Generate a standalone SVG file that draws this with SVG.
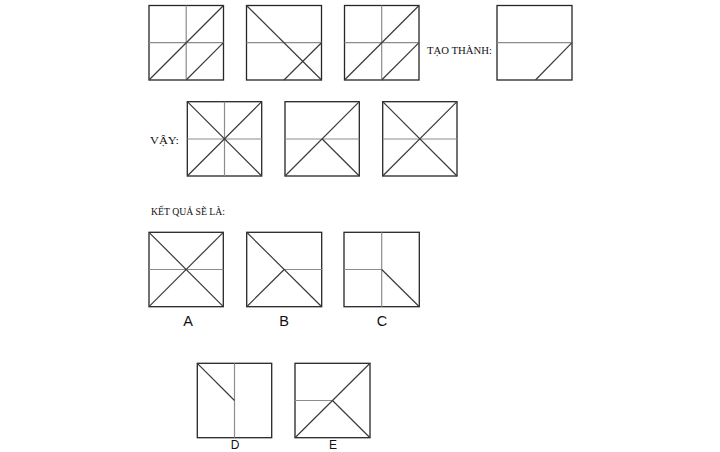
<svg xmlns="http://www.w3.org/2000/svg" width="720" height="452" viewBox="0 0 720 452">
<style>
.frame{fill:none;stroke:#262626;stroke-width:1.3}
.mid{fill:none;stroke:#8c8c8c;stroke-width:1.2}
.diag{fill:none;stroke:#3a3a3a;stroke-width:1.2}
.cap{font-family:"Liberation Serif","DejaVu Serif",serif;font-size:10.5px;fill:#111}
.lab{font-family:"Liberation Sans",Arial,sans-serif;font-size:14.5px;fill:#111;text-anchor:middle}
.lab2{font-family:"Liberation Sans",Arial,sans-serif;font-size:12px;fill:#111;text-anchor:middle}
</style>
<rect x="0" y="0" width="720" height="452" fill="#ffffff"/>
<!-- Top row -->
<g id="top1">
<rect class="frame" x="149" y="5.5" width="74.5" height="74.5"/>
<line class="mid" x1="186.2" y1="5.5" x2="186.2" y2="80"/>
<line class="mid" x1="149" y1="42.7" x2="223.5" y2="42.7"/>
<line class="diag" x1="149" y1="80" x2="223.5" y2="5.5"/>
<line class="diag" x1="186.2" y1="80" x2="223.5" y2="42.7"/>
</g>
<g id="top2">
<rect class="frame" x="246.5" y="5.5" width="75" height="74.5"/>
<line class="mid" x1="246.5" y1="42.7" x2="321.5" y2="42.7"/>
<line class="diag" x1="246.5" y1="5.5" x2="321.5" y2="80"/>
<line class="diag" x1="284" y1="80" x2="321.5" y2="42.7"/>
</g>
<g id="top3">
<rect class="frame" x="344.5" y="5.5" width="74.5" height="74.5"/>
<line class="mid" x1="381.7" y1="5.5" x2="381.7" y2="80"/>
<line class="mid" x1="344.5" y1="42.7" x2="419" y2="42.7"/>
<line class="diag" x1="344.5" y1="80" x2="419" y2="5.5"/>
<line class="diag" x1="381.7" y1="80" x2="419" y2="42.7"/>
</g>
<text class="cap" x="427" y="53.5" textLength="65" lengthAdjust="spacingAndGlyphs">TẠO THÀNH:</text>
<g id="top4">
<rect class="frame" x="497" y="5.5" width="75" height="74.5"/>
<line class="mid" x1="497" y1="42.7" x2="572" y2="42.7"/>
<line class="diag" x1="535.5" y1="80" x2="572" y2="42.7"/>
</g>
<!-- Middle row -->
<text class="cap" x="150" y="144" textLength="29" lengthAdjust="spacingAndGlyphs">VẬY:</text>
<g id="mid1">
<rect class="frame" x="187.3" y="101.7" width="74.4" height="74.3"/>
<line class="mid" x1="224.5" y1="101.7" x2="224.5" y2="176"/>
<line class="mid" x1="187.3" y1="139" x2="261.7" y2="139"/>
<line class="diag" x1="187.3" y1="101.7" x2="261.7" y2="176"/>
<line class="diag" x1="187.3" y1="176" x2="261.7" y2="101.7"/>
</g>
<g id="mid2">
<rect class="frame" x="285" y="101.7" width="74.3" height="74.3"/>
<line class="mid" x1="285" y1="139" x2="359.3" y2="139"/>
<line class="diag" x1="285" y1="176" x2="359.3" y2="101.7"/>
<line class="diag" x1="322.2" y1="139" x2="359.3" y2="176"/>
</g>
<g id="mid3">
<rect class="frame" x="382.7" y="101.7" width="74.3" height="74.3"/>
<line class="mid" x1="382.7" y1="139" x2="457" y2="139"/>
<line class="diag" x1="382.7" y1="101.7" x2="457" y2="176"/>
<line class="diag" x1="382.7" y1="176" x2="457" y2="101.7"/>
</g>
<!-- Answers -->
<text class="cap" x="151" y="214.5" textLength="74" lengthAdjust="spacingAndGlyphs">KẾT QUẢ SẼ LÀ:</text>
<g id="ansA">
<rect class="frame" x="149" y="232.3" width="74.3" height="74.4"/>
<line class="mid" x1="149" y1="269.5" x2="223.3" y2="269.5"/>
<line class="diag" x1="149" y1="232.3" x2="223.3" y2="306.7"/>
<line class="diag" x1="149" y1="306.7" x2="223.3" y2="232.3"/>
<text class="lab" x="188" y="325.5">A</text>
</g>
<g id="ansB">
<rect class="frame" x="246.7" y="232.3" width="75" height="74.4"/>
<line class="mid" x1="284.2" y1="269.5" x2="321.7" y2="269.5"/>
<line class="diag" x1="246.7" y1="232.3" x2="321.7" y2="306.7"/>
<line class="diag" x1="246.7" y1="306.7" x2="284.2" y2="269.5"/>
<text class="lab" x="284" y="325.5">B</text>
</g>
<g id="ansC">
<rect class="frame" x="344" y="232.3" width="75.3" height="74.4"/>
<line class="mid" x1="381.7" y1="232.3" x2="381.7" y2="306.7"/>
<line class="mid" x1="344" y1="269.5" x2="381.7" y2="269.5"/>
<line class="diag" x1="381.7" y1="269.5" x2="419.3" y2="306.7"/>
<text class="lab" x="382" y="325.5">C</text>
</g>
<g id="ansD">
<rect class="frame" x="197.3" y="363.3" width="74.4" height="74.4"/>
<line class="mid" x1="234.5" y1="363.3" x2="234.5" y2="437.7"/>
<line class="diag" x1="197.3" y1="363.3" x2="234.5" y2="400.5"/>
<text class="lab2" x="235" y="449.3">D</text>
</g>
<g id="ansE">
<rect class="frame" x="295" y="363.3" width="75" height="74.4"/>
<line class="mid" x1="295" y1="400.5" x2="332.5" y2="400.5"/>
<line class="diag" x1="295" y1="437.7" x2="370" y2="363.3"/>
<line class="diag" x1="332.5" y1="400.5" x2="370" y2="437.7"/>
<text class="lab2" x="333" y="449.3">E</text>
</g>
<g id="connectors"></g>
</svg>
